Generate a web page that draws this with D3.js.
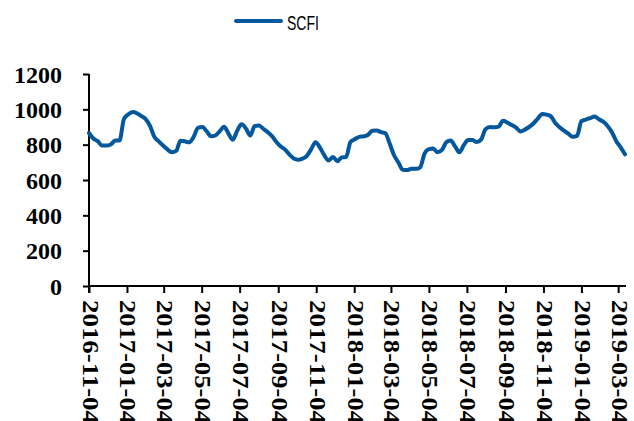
<!DOCTYPE html>
<html>
<head>
<meta charset="utf-8">
<script src="https://cdn.jsdelivr.net/npm/d3@7"></script>
<style>
  html, body { margin: 0; padding: 0; background: #fff; }
  svg { display: block; }
</style>
</head>
<body>
<svg id="chart" width="634" height="421"></svg>
<script>
// Weekly SCFI readings, first Friday 2016-11-04
const startDate = "2016-11-04";
const scfi = [
  866, 835, 820, 795, 795, 801, 823, 823, 944, 971,
  985, 978, 962, 945, 907, 844, 819, 795, 773, 757,
  765, 822, 819, 813, 843, 895, 900, 876, 847, 852,
  876, 901, 863, 828, 878, 915, 892, 852, 905, 909,
  890, 871, 848, 815, 790, 772, 744, 722, 715, 721,
  737, 775, 814, 783, 740, 710, 730, 706, 728, 730,
  815, 831, 844, 847, 855, 879, 880, 871, 865, 806,
  740, 699, 658, 656, 664, 663, 672, 749, 775, 778,
  757, 770, 815, 824, 790, 757, 797, 826, 826, 815,
  830, 888, 900, 898, 902, 935, 925, 911, 897, 875,
  885, 900, 920, 948, 973, 970, 960, 922, 898, 879,
  862, 845, 850, 933, 942, 950, 960, 944, 930, 906,
  870, 820, 785, 745
];
const xTickLabels = [
  "2016-11-04", "2017-01-04", "2017-03-04", "2017-05-04", "2017-07-04",
  "2017-09-04", "2017-11-04", "2018-01-04", "2018-03-04", "2018-05-04",
  "2018-07-04", "2018-09-04", "2018-11-04", "2019-01-04", "2019-03-04"
];
const yTicks = [0, 200, 400, 600, 800, 1000, 1200];
const seriesName = "SCFI";

const parse = d3.utcParse("%Y-%m-%d");
const t0 = parse(startDate);
const data = scfi.map((v, i) => ({ date: d3.utcDay.offset(t0, 7 * i), value: v }));

const svg = d3.select("#chart");
const plot = { left: 89, right: 625, top: 74, bottom: 286 };
const lineColor = "#03579c";
const labelFont = "'Liberation Serif', 'Times New Roman', serif";

const x = d3.scaleUtc()
  .domain([t0, data[data.length - 1].date])
  .range([plot.left, plot.right]);
const y = d3.scaleLinear().domain([0, 1200]).range([plot.bottom, plot.top]);

// y axis
const yAxis = svg.append("g")
  .attr("transform", `translate(${plot.left},0)`)
  .call(d3.axisLeft(y).tickValues(yTicks).tickSize(6).tickPadding(21).tickFormat(d3.format("d")));
yAxis.select(".domain").attr("stroke", "#000").attr("stroke-width", 2)
  .attr("d", `M0,${plot.top}V${plot.bottom + 7}`);
yAxis.selectAll(".tick line").attr("stroke", "#000").attr("stroke-width", 2);
yAxis.selectAll(".tick text")
  .attr("font-family", labelFont).attr("font-weight", "bold").attr("font-size", 24)
  .attr("fill", "#000").attr("dy", "0.34em");

// x axis with rotated date labels
const xAxis = svg.append("g")
  .attr("transform", `translate(0,${plot.bottom})`)
  .call(d3.axisBottom(x).tickValues(xTickLabels.map(parse)).tickSize(7).tickFormat(d3.utcFormat("%Y-%m-%d")));
xAxis.select(".domain").attr("stroke", "#000").attr("stroke-width", 2)
  .attr("d", `M${plot.left},0H${plot.right + 1}`);
xAxis.selectAll(".tick line").attr("stroke", "#000").attr("stroke-width", 2);
xAxis.selectAll(".tick text")
  .attr("font-family", labelFont).attr("font-weight", "bold").attr("font-size", 24)
  .attr("fill", "#000")
  .attr("text-anchor", "start")
  .attr("dominant-baseline", "central")
  .attr("textLength", 124).attr("lengthAdjust", "spacingAndGlyphs")
  .attr("y", 0).attr("dy", null)
  .attr("transform", "translate(1,14) rotate(90)");

// series line
svg.append("path")
  .datum(data)
  .attr("fill", "none")
  .attr("stroke", lineColor)
  .attr("stroke-width", 4)
  .attr("stroke-linejoin", "round")
  .attr("stroke-linecap", "round")
  .attr("d", d3.line().x(d => x(d.date)).y(d => y(d.value)).curve(d3.curveMonotoneX));

// legend
const legend = svg.append("g");
legend.append("line")
  .attr("x1", 236).attr("x2", 281).attr("y1", 21).attr("y2", 21)
  .attr("stroke", lineColor).attr("stroke-width", 4).attr("stroke-linecap", "round");
legend.append("text")
  .attr("x", 287).attr("y", 30)
  .attr("font-family", "'Liberation Sans Narrow', 'Liberation Sans', Arial, sans-serif")
  .attr("font-size", 20)
  .attr("textLength", 32).attr("lengthAdjust", "spacingAndGlyphs")
  .attr("fill", "#000")
  .text(seriesName);
</script>
</body>
</html>
